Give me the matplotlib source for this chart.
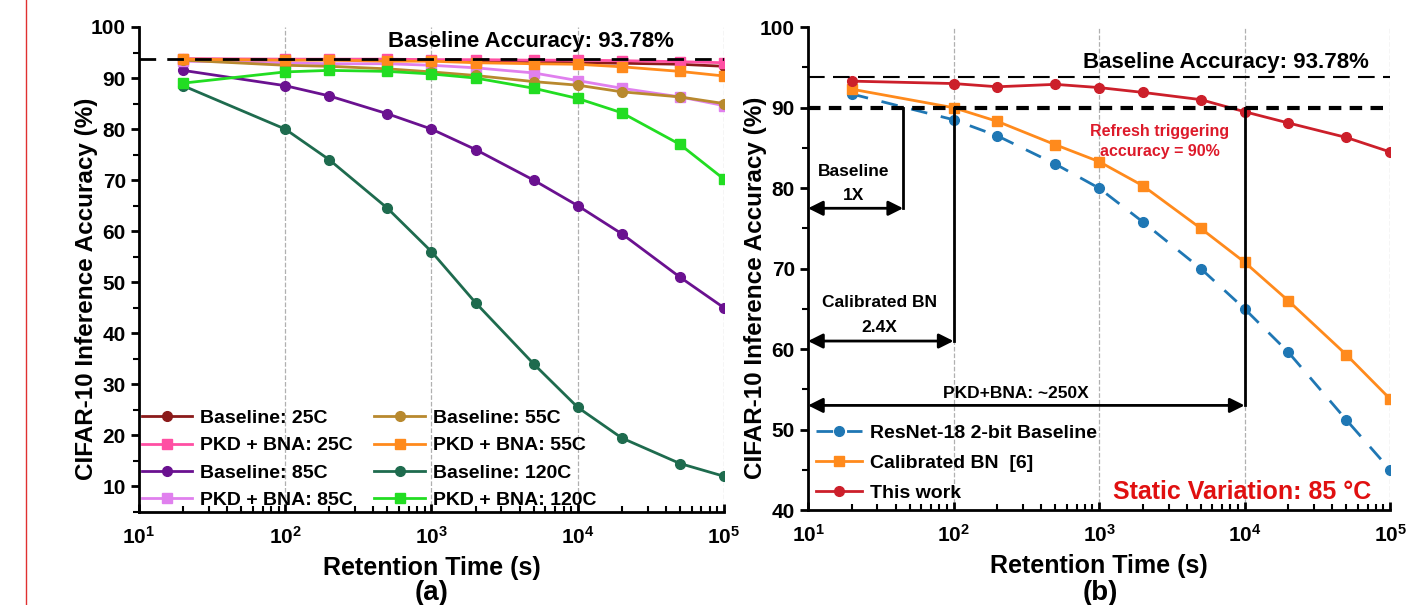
import matplotlib
matplotlib.use("Agg")
import matplotlib.pyplot as plt
from matplotlib.ticker import MultipleLocator, LogLocator, NullFormatter
from matplotlib.lines import Line2D

plt.rcParams['font.family'] = ['Liberation Sans', 'DejaVu Sans']
plt.rcParams['font.weight'] = 'bold'
plt.rcParams['mathtext.fontset'] = 'custom'
plt.rcParams['mathtext.rm'] = 'Liberation Sans:bold'
plt.rcParams['mathtext.default'] = 'rm'

# retention times (s)
t = [20, 100, 200, 500, 1000, 2000, 5000, 10000, 20000, 50000, 100000]

# panel (a)
base_25 = [93.7, 93.6, 93.6, 93.5, 93.5, 93.4, 93.2, 93.0, 92.9, 92.7, 92.3]
pkd_25 = [93.8, 93.7, 93.7, 93.7, 93.6, 93.6, 93.5, 93.5, 93.4, 93.2, 93.0]
base_55 = [93.5, 92.5, 92.3, 91.8, 91.2, 90.5, 89.3, 88.6, 87.3, 86.3, 85.0]
pkd_55 = [93.7, 93.5, 93.5, 93.3, 93.3, 93.0, 92.8, 92.7, 92.2, 91.3, 90.4]
base_85 = [91.5, 88.5, 86.5, 83.0, 80.0, 76.0, 70.0, 65.0, 59.5, 51.0, 45.0]
pkd_85 = [93.3, 93.0, 92.8, 92.8, 92.5, 92.0, 91.0, 89.5, 88.0, 86.3, 84.6]
base_120 = [88.5, 80.0, 74.0, 64.5, 56.0, 46.0, 34.0, 25.5, 19.5, 14.5, 12.0]
pkd_120 = [89.0, 91.2, 91.5, 91.3, 90.8, 90.0, 88.0, 86.0, 83.2, 77.0, 70.2]

# panel (b)
resnet_base = [91.7, 88.5, 86.5, 83.0, 80.0, 75.8, 70.0, 65.0, 59.6, 51.2, 45.0]
calib_bn = [92.3, 90.0, 88.3, 85.4, 83.3, 80.3, 75.0, 70.8, 66.0, 59.3, 53.8]
this_work = [93.3, 93.0, 92.6, 92.9, 92.5, 91.9, 91.0, 89.5, 88.1, 86.3, 84.5]

baseline_acc = 93.78
refresh_acc = 90

fig = plt.figure(figsize=(14.08, 6.05), dpi=100)
ax1 = fig.add_axes([0.0987, 0.1537, 0.4155, 0.8017])
ax2 = fig.add_axes([0.5739, 0.157, 0.4134, 0.798])

# thin red page border on the left
fig.add_artist(Line2D([26 / 1408, 26 / 1408], [0, 1], color='#e03030', lw=1))

series_a = [
    (base_25, 'Baseline: 25C', '#8b1a1a', 'o'),
    (pkd_25, 'PKD + BNA: 25C', '#ff4fa3', 's'),
    (base_85, 'Baseline: 85C', '#6a1190', 'o'),
    (pkd_85, 'PKD + BNA: 85C', '#e080ee', 's'),
    (base_55, 'Baseline: 55C', '#b8892e', 'o'),
    (pkd_55, 'PKD + BNA: 55C', '#ff8a1c', 's'),
    (base_120, 'Baseline: 120C', '#1e6b4e', 'o'),
    (pkd_120, 'PKD + BNA: 120C', '#22dd22', 's'),
]
for ax in (ax1, ax2):
    ax.set_xscale('log')
    ax.set_xlim(10, 1e5)
    ax.xaxis.set_minor_locator(LogLocator(base=10, subs=range(2, 10), numticks=20))
    ax.xaxis.set_minor_formatter(NullFormatter())
    ax.set_xticks([10, 100, 1000, 10000, 100000])
    ax.set_xticklabels([r'$10^{1}$', r'$10^{2}$', r'$10^{3}$', r'$10^{4}$', r'$10^{5}$'])
    ax.grid(axis='x', which='major', ls='--', color='#b0b0b0', lw=0.9)
    ax.yaxis.set_minor_locator(MultipleLocator(5))
    ax.spines['top'].set_visible(False)
    ax.spines['right'].set_visible(False)
    ax.spines['left'].set_linewidth(2)
    ax.spines['bottom'].set_linewidth(2)
    ax.tick_params(axis='both', which='major', labelsize=15, width=2, length=6)
    ax.tick_params(axis='both', which='minor', width=1.5, length=4)
    ax.tick_params(axis='x', which='both', direction='in', pad=10)
    ax.set_xlabel('Retention Time (s)', fontsize=18, fontweight='bold', labelpad=6)
    ax.set_ylabel('CIFAR-10 Inference Accuracy (%)', fontsize=17.5, fontweight='bold',
                  labelpad=-5)
    ax.yaxis.label.set_y(0.46)

# ---- (a)
for vals, lab, col, mk in series_a:
    ax1.plot(t, vals, color=col, marker=mk, ms=7, lw=2, label=lab)
ax1.axhline(baseline_acc, color='k', ls=(0, (6, 4)), lw=2)
ax1.text(4.8e3, 97.1, 'Baseline Accuracy: 93.78%', ha='center', va='center',
         fontsize=16, fontweight='bold')
ax1.set_ylim(5, 100)
ax1.set_yticks(range(10, 101, 10))
ax1.legend(ncol=2, loc='lower left', frameon=False, fontsize=14,
           handlelength=2.6, columnspacing=1.1, labelspacing=0.5,
           borderaxespad=-0.25, handletextpad=0.4)

# ---- (b)
ax2.plot(t, resnet_base, color='#1f77b4', ls=(0, (6, 5)), marker='o', ms=7, lw=2,
         label='ResNet-18 2-bit Baseline')
ax2.plot(t, calib_bn, color='#ff8a1c', marker='s', ms=7, lw=2, label='Calibrated BN  [6]')
ax2.plot(t, this_work, color='#cc1f2a', marker='o', ms=7, lw=2, label='This work')
ax2.axhline(baseline_acc, color='k', ls=(0, (8, 4)), lw=1.5)
ax2.axhline(refresh_acc, color='k', ls=(0, (3, 2)), lw=3)
ax2.text(7.4e3, 95.65, 'Baseline Accuracy: 93.78%', ha='center', va='center',
         fontsize=16, fontweight='bold')
ax2.text(2.6e3, 85.8, 'Refresh triggering\naccuracy = 90%', ha='center', va='center',
         fontsize=11.5, fontweight='bold', color='#dd1a2a', linespacing=1.4)

arrow_kw = dict(arrowstyle='<|-|>', color='k', lw=2, mutation_scale=22,
                shrinkA=0, shrinkB=0)
marks = [(45, 77.5, 'Baseline\n1X', 20.5, 80.6),
         (100, 61.0, 'Calibrated BN\n2.4X', 31, 64.2),
         (10000, 53.0, 'PKD+BNA: ~250X', 270, 54.5)]
for xv, yv, txt, tx, ty in marks:
    ax2.plot([xv, xv], [refresh_acc, yv], color='k', lw=2)
    ax2.annotate('', xy=(10, yv), xytext=(xv, yv), arrowprops=arrow_kw)
    ax2.text(tx, ty, txt, ha='center', va='center', fontsize=12.5,
             fontweight='bold', linespacing=1.8)

ax2.text(9.6e3, 42.3, 'Static Variation: 85 °C', ha='center', va='center',
         fontsize=18, fontweight='bold', color='#e01010')
ax2.set_ylim(40, 100)
ax2.set_yticks(range(40, 101, 10))
ax2.legend(loc='lower left', frameon=False, fontsize=14, handlelength=2.4,
           labelspacing=0.65, borderaxespad=0.0, handletextpad=0.4)

fig.text(432 / 1408, 1 - 593 / 605, '(a)', ha='center', va='center', fontsize=20, fontweight='bold')
fig.text(1100 / 1408, 1 - 593 / 605, '(b)', ha='center', va='center', fontsize=20, fontweight='bold')

fig.savefig('out.png', dpi=100)
